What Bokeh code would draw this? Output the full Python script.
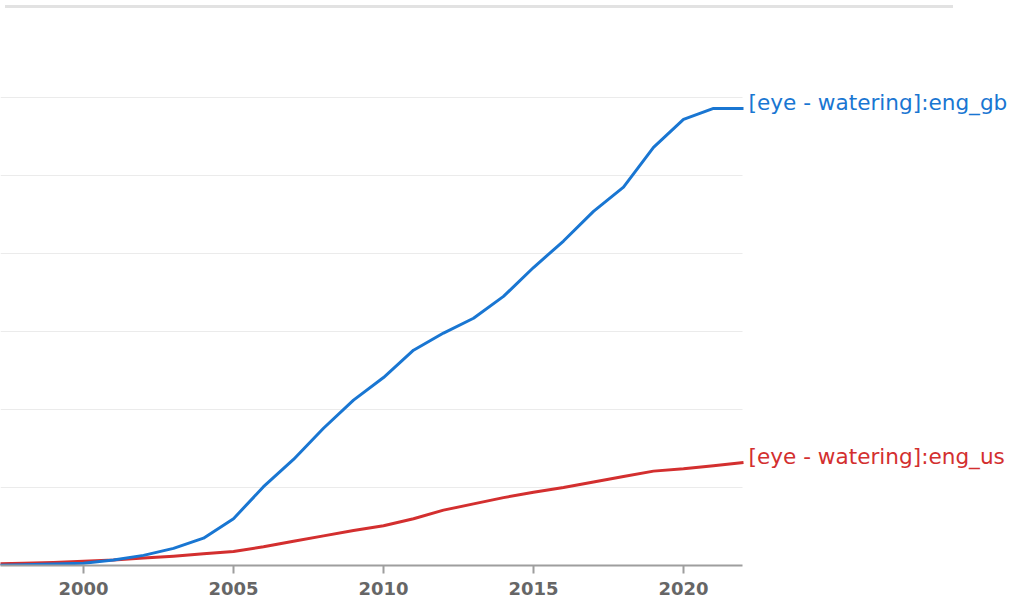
from bokeh.plotting import figure
from bokeh.models import Range1d, FixedTicker, Label, Div
from bokeh.layouts import column
from bokeh.embed import file_html
from bokeh.resources import INLINE

years = list(range(1997, 2023))
eng_gb = [0.00, 0.01, 0.02, 0.03, 0.07, 0.13, 0.22, 0.35, 0.60, 1.01, 1.36, 1.76, 2.12,
          2.41, 2.76, 2.98, 3.17, 3.45, 3.82, 4.16, 4.54, 4.85, 5.36, 5.72, 5.86, 5.86]
eng_us = [0.02, 0.03, 0.04, 0.055, 0.07, 0.095, 0.12, 0.15, 0.18, 0.24, 0.31, 0.38, 0.45,
          0.51, 0.60, 0.71, 0.79, 0.87, 0.94, 1.00, 1.07, 1.14, 1.21, 1.24, 1.28, 1.32]
series_names = ["[eye - watering]:eng_gb", "[eye - watering]:eng_us"]
tick_years = [2000, 2005, 2010, 2015, 2020]
grid_levels = [1, 2, 3, 4, 5, 6]

BLUE = "#1976d2"
RED = "#d32f2f"
FONT = "DejaVu Sans"

X0, X1 = 1997.233, 2021.967     # data extent of the axis
XEND = 2030.8                    # frame extends right for the labels

p = figure(width=1007, height=588, output_backend="svg", toolbar_location=None,
           x_range=Range1d(X0, XEND), y_range=Range1d(0, 7.077),
           min_border_left=0, min_border_right=0, min_border_top=0, min_border_bottom=36)
p.outline_line_color = None
p.background_fill_color = "white"
p.border_fill_color = "white"

p.yaxis.visible = False
p.xgrid.grid_line_color = None
p.ygrid.ticker = FixedTicker(ticks=grid_levels)
p.ygrid.grid_line_color = "#ebebeb"
p.ygrid.grid_line_width = 1
grid_ok = True
try:
    p.ygrid[0].cross_bounds = (X0, X1)
except Exception:
    grid_ok = False
if not grid_ok:
    p.ygrid.grid_line_color = None
    p.segment(x0=[X0] * len(grid_levels), x1=[X1] * len(grid_levels),
              y0=grid_levels, y1=grid_levels, line_color="#ebebeb", line_width=1)

xa = p.xaxis[0]
xa.bounds = (X0, X1)
xa.ticker = FixedTicker(ticks=tick_years)
xa.axis_line_color = "#9e9e9e"
xa.axis_line_width = 2
xa.major_tick_line_color = "#9e9e9e"
xa.major_tick_line_width = 2
xa.major_tick_in = 0
xa.major_tick_out = 8
xa.minor_tick_line_color = None
xa.major_label_text_font = FONT
xa.major_label_text_font_size = "18px"
xa.major_label_text_font_style = "bold"
xa.major_label_text_color = "#666666"
xa.major_label_standoff = 8

p.line(years, eng_us, line_color=RED, line_width=3, line_join="round")
p.line(years, eng_gb, line_color=BLUE, line_width=3, line_join="round")

for name, vals, col in [(series_names[0], eng_gb, BLUE), (series_names[1], eng_us, RED)]:
    p.add_layout(Label(x=X1, y=vals[-1], text=name, x_offset=6, y_offset=6,
                       text_baseline="middle", text_align="left",
                       text_font=FONT, text_font_size="21.6px", text_color=col))

top_line = Div(text="", width=948, height=3, styles={"background-color": "#e2e2e2"})

layout = column(top_line, p, spacing=0)

open("out.html", "w").write(file_html(layout, INLINE))
